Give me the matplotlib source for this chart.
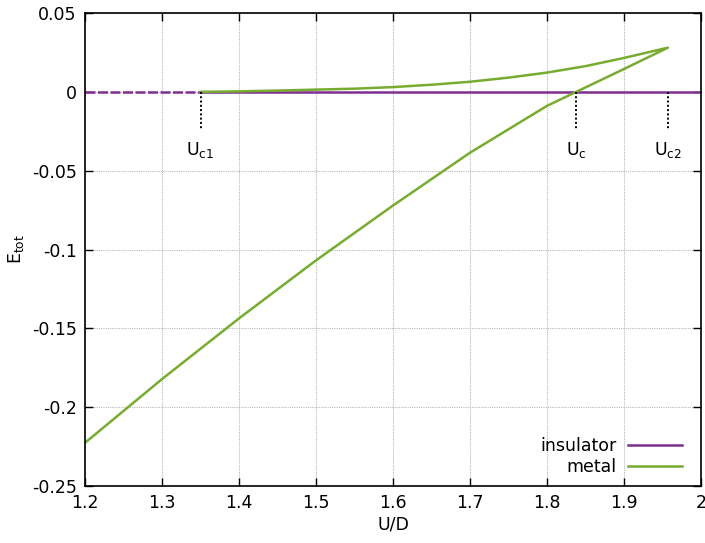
import matplotlib
matplotlib.use("Agg")
import matplotlib.pyplot as plt
import numpy as np

# Data
ins_x = [1.2, 2.0]
ins_y = [0.0, 0.0]
uc1 = 1.35
uc = 1.838
uc2 = 1.957

upper_x = [1.35, 1.4, 1.45, 1.5, 1.55, 1.6, 1.65, 1.7, 1.75, 1.8, 1.85, 1.9, 1.957]
upper_y = [0.0, 0.0003, 0.0008, 0.0014, 0.0020, 0.0030, 0.0045, 0.0064, 0.0090, 0.0122, 0.0163, 0.0215, 0.0280]
lower_x = [1.957, 1.9, 1.8, 1.7, 1.6, 1.5, 1.4, 1.3, 1.2]
lower_y = [0.0280, 0.0145, -0.0089, -0.0386, -0.0721, -0.1069, -0.1437, -0.1822, -0.2226]

xticks = [1.2, 1.3, 1.4, 1.5, 1.6, 1.7, 1.8, 1.9, 2.0]
xticklabels = ["1.2", "1.3", "1.4", "1.5", "1.6", "1.7", "1.8", "1.9", "2"]
yticks = [0.05, 0.0, -0.05, -0.1, -0.15, -0.2, -0.25]
yticklabels = ["0.05", "0", "-0.05", "-0.1", "-0.15", "-0.2", "-0.25"]

purple = "#7E2F8E"
green = "#77AC30"

plt.rcParams['font.family'] = ['DejaVu Sans']
plt.rcParams['mathtext.default'] = 'regular'
fs = 12.5

fig = plt.figure(figsize=(7.05, 5.43), dpi=100)
ax = fig.add_axes([85/705, 1-486/543, 616/705, 473/543])

# insulator: dashed until Uc1, solid afterwards
ax.plot([ins_x[0], uc1], [ins_y[0], ins_y[1]], color=purple, lw=1.8, dashes=(4.0, 1.0))
ax.plot([uc1, ins_x[1]], [ins_y[0], ins_y[1]], color=purple, lw=1.8, label="insulator")

mx = upper_x + lower_x[1:]
my = upper_y + lower_y[1:]
ax.plot(mx, my, color=green, lw=1.8, label="metal")

# critical markers
for xv, lab in [(uc1, r"$U_{c1}$"), (uc, r"$U_{c}$"), (uc2, r"$U_{c2}$")]:
    ax.plot([xv, xv], [0.0, -0.0245], color="black", lw=1.4, linestyle=(0, (1, 1.2)))
    ax.text(xv, -0.037, lab, ha="center", va="center", fontsize=fs)

ax.set_xlim(1.2, 2.0)
ax.set_ylim(-0.25, 0.05)
ax.set_xticks(xticks)
ax.set_xticklabels(xticklabels, fontsize=fs)
ax.set_yticks(yticks)
ax.set_yticklabels(yticklabels, fontsize=fs)
ax.tick_params(direction="in", length=6, width=1, top=True, right=True, pad=6)
ax.grid(True, color="#b8b8b8", linestyle=(0, (1, 1)), lw=0.8)
for s in ax.spines.values():
    s.set_linewidth(1.2)

ax.set_xlabel("U/D", fontsize=fs, labelpad=2)
ax.set_ylabel(r"$E_{tot}$", fontsize=fs, labelpad=4)

leg = ax.legend(loc="lower right", bbox_to_anchor=(0.977, 0.01), frameon=False,
                markerfirst=False, fontsize=fs, handlelength=3.1, handletextpad=0.65,
                labelspacing=0.2, borderaxespad=0, borderpad=0.3)

fig.savefig("out.png", dpi=100)
